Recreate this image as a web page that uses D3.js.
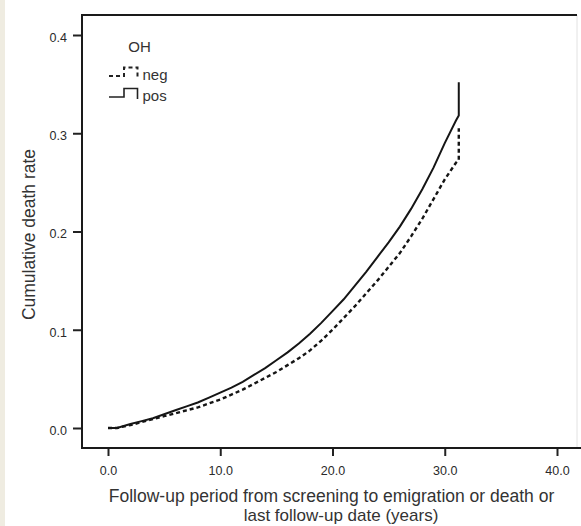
<!DOCTYPE html>
<html>
<head>
<meta charset="utf-8">
<script src="https://cdn.jsdelivr.net/npm/d3@7"></script>
<style>
  html, body { margin: 0; padding: 0; background: #fff; }
  svg { display: block; font-family: "Liberation Sans", Arial, sans-serif; }
</style>
</head>
<body>
<svg id="chart" width="581" height="526"></svg>
<script>
// ---- data ----
const timesPos = [0, 0.8, 2, 3, 4, 5, 6, 7, 8, 9, 10, 11, 12, 13, 14, 15, 16, 17, 18, 19, 20, 21, 22, 23, 24, 25, 26, 27, 28, 29, 30, 31, 31.25, 31.25];
const ratePos  = [0, 0, 0.004, 0.007, 0.010, 0.014, 0.018, 0.022, 0.026, 0.031, 0.036, 0.041, 0.047, 0.054, 0.061, 0.069, 0.077, 0.086, 0.096, 0.107, 0.119, 0.131, 0.145, 0.159, 0.174, 0.189, 0.205, 0.223, 0.243, 0.265, 0.290, 0.313, 0.318, 0.352];
const timesNeg = [0, 0.8, 2, 3, 4, 5, 6, 7, 8, 9, 10, 11, 12, 13, 14, 15, 16, 17, 18, 19, 20, 21, 22, 23, 24, 25, 26, 27, 28, 29, 30, 31, 31.25, 31.25];
const rateNeg  = [0, 0, 0.003, 0.006, 0.009, 0.012, 0.015, 0.018, 0.021, 0.025, 0.029, 0.034, 0.039, 0.045, 0.051, 0.057, 0.064, 0.071, 0.079, 0.089, 0.100, 0.112, 0.124, 0.137, 0.150, 0.164, 0.178, 0.195, 0.213, 0.233, 0.253, 0.270, 0.273, 0.305];
const xTicks = [0, 10, 20, 30, 40];
const yTicks = [0, 0.1, 0.2, 0.3, 0.4];
const seriesNames = ["neg", "pos"];
const legendTitle = "OH";
const xTitleLines = ["Follow-up period from screening to emigration or death or", "last follow-up date (years)"];
const yTitle = "Cumulative death rate";

// ---- drawing ----
const svg = d3.select("#chart");
svg.append("rect").attr("x", 0).attr("y", 0).attr("width", 581).attr("height", 526).attr("fill", "#fff");
svg.append("rect").attr("x", 0).attr("y", 0).attr("width", 5).attr("height", 526).attr("fill", "#efece1");

const frame = { left: 82, top: 15, right: 577, bottom: 448 };
const x = d3.scaleLinear().domain([0, 40]).range([108, 557]);
const y = d3.scaleLinear().domain([0, 0.4]).range([428, 35]);

// faint right border
svg.append("line").attr("x1", frame.right).attr("x2", frame.right)
  .attr("y1", frame.top).attr("y2", frame.bottom).attr("stroke", "#e2e2e2").attr("stroke-width", 1);

// axes
const yAxis = svg.append("g").attr("transform", `translate(${frame.left},0)`)
  .call(d3.axisLeft(y).tickValues(yTicks).tickSize(9).tickPadding(6).tickFormat(d3.format(".1f")));
const xAxis = svg.append("g").attr("transform", `translate(0,${frame.bottom})`)
  .call(d3.axisBottom(x).tickValues(xTicks).tickSize(8).tickPadding(10).tickFormat(d3.format(".1f")));
[yAxis, xAxis].forEach(g => {
  g.select(".domain").remove();
  g.selectAll(".tick line").attr("stroke", "#222").attr("stroke-width", 2);
  g.selectAll(".tick text").attr("fill", "#2a2a2a").style("font-size", "12.5px")
    .style("font-family", "'Liberation Sans', Arial, sans-serif");
});
yAxis.selectAll(".tick text").attr("dy", "0.5em");

// frame lines
svg.append("line").attr("x1", frame.left).attr("x2", frame.left).attr("y1", frame.top - 1).attr("y2", frame.bottom + 1)
  .attr("stroke", "#1a1a1a").attr("stroke-width", 2);
svg.append("line").attr("x1", frame.left - 1).attr("x2", 581).attr("y1", frame.bottom).attr("y2", frame.bottom)
  .attr("stroke", "#1a1a1a").attr("stroke-width", 2);
svg.append("line").attr("x1", frame.left - 1).attr("x2", frame.right).attr("y1", frame.top).attr("y2", frame.top)
  .attr("stroke", "#1a1a1a").attr("stroke-width", 2);

// curves
const line = d3.line().x(d => x(d[0])).y(d => y(d[1])).curve(d3.curveLinear);
const negData = timesNeg.map((t, i) => [t, rateNeg[i]]);
const posData = timesPos.map((t, i) => [t, ratePos[i]]);
svg.append("path").datum(negData).attr("d", line).attr("fill", "none")
  .attr("stroke", "#151515").attr("stroke-width", 2.4).attr("stroke-dasharray", "4,3");
svg.append("path").datum(posData).attr("d", line).attr("fill", "none")
  .attr("stroke", "#151515").attr("stroke-width", 2);

// legend
const lg = svg.append("g").attr("transform", "translate(109,0)");
lg.append("text").attr("x", 30.5).attr("y", 51.5).attr("text-anchor", "middle")
  .style("font-size", "15px").attr("fill", "#333").text(legendTitle);
const sym = d3.line();
const legendRows = [
  { name: seriesNames[0], base: 76, dash: "4,3", w: 2 },
  { name: seriesNames[1], base: 97, dash: null, w: 1.6 }
];
legendRows.forEach(r => {
  const pts = [[0, r.base], [15, r.base], [15, r.base - 8.5], [28.5, r.base - 8.5], [28.5, r.base + 2]];
  const p = lg.append("path").attr("d", sym(pts)).attr("fill", "none").attr("stroke", "#222").attr("stroke-width", r.w);
  if (r.dash) p.attr("stroke-dasharray", r.dash);
  lg.append("text").attr("x", 33.5).attr("y", r.base + 3.5)
    .style("font-size", "15px").attr("fill", "#333").text(r.name);
});

// axis titles
svg.append("text").attr("x", 331.5).attr("y", 501.5).attr("text-anchor", "middle")
  .style("font-size", "17.5px").attr("fill", "#333").text(xTitleLines[0]);
svg.append("text").attr("x", 341).attr("y", 521.3).attr("text-anchor", "middle")
  .style("font-size", "17px").attr("fill", "#333").text(xTitleLines[1]);
svg.append("text").attr("transform", "translate(35,234.5) rotate(-90)").attr("text-anchor", "middle")
  .style("font-size", "17.5px").attr("fill", "#333").text(yTitle);
</script>
</body>
</html>
